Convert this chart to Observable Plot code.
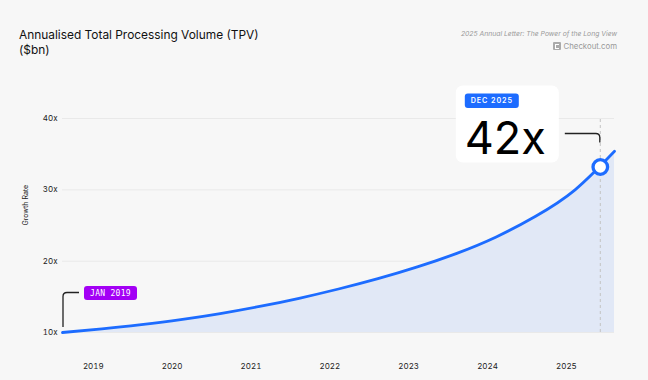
<!DOCTYPE html>
<html><head><meta charset="utf-8">
<script src="https://cdn.jsdelivr.net/npm/d3@7"></script>
<script src="https://cdn.jsdelivr.net/npm/@observablehq/plot@0.6"></script>
<style>
html,body{margin:0;padding:0;background:#f7f7f7;}
#wrap{position:relative;width:648px;height:380px;overflow:hidden;font-family:Inter,sans-serif;background:#f7f7f7;}
#chart{position:absolute;left:0;top:0;}
.title{position:absolute;left:19px;top:28px;font-size:11.9px;line-height:14.5px;color:#111;white-space:nowrap;}
.source{position:absolute;right:31px;top:29px;font-size:6.8px;font-style:italic;color:#999;white-space:nowrap;}
.brand{position:absolute;right:31px;top:41.5px;height:8.5px;font-size:7.8px;color:#999;display:flex;align-items:center;gap:2.5px;white-space:nowrap;}
.logo{width:8.5px;height:8.5px;background:#aaa;border-radius:1px;position:relative;}
.logo::after{content:"";position:absolute;left:2.2px;top:2.2px;width:3px;height:3px;border:1px solid #fff;border-right:none;}
</style>
</head><body>
<div id="wrap">
  <div id="chart"></div>
  <div class="title">Annualised Total Processing Volume (TPV)<br>($bn)</div>
  <div class="source">2025 Annual Letter: The Power of the Long View</div>
  <div class="brand"><span class="logo"></span><span>Checkout.com</span></div>
</div>
<script>
// time points (decimal years) and growth multiples
const times  = [2019.0, 2019.5, 2020.0, 2020.5, 2021.0, 2021.5, 2022.0, 2022.5, 2023.0, 2023.5, 2024.0, 2024.5, 2025.0, 2025.5, 2026.0];
const growth = [10.0, 10.5, 11.1, 11.8, 12.65, 13.65, 14.8, 16.1, 17.55, 19.2, 21.1, 23.4, 26.3, 30.0, 35.4];
// highlighted point
const highlightX = [2025.82];
const highlightY = [33.2];
const highlightLabel = ["DEC 2025"];
const highlightValue = ["42x"];
const startLabel = ["JAN 2019"];
// axes
const yTicks = [10, 20, 30, 40];
const yearLabels = [2019, 2020, 2021, 2022, 2023, 2024, 2025];
const yearTickPos = yearLabels.map(y => y + 0.39);
const yLabel = "Growth Rate";

const blue = "#1d6cff", purple = "#a300f5";
const data = times.map((t, i) => ({t, v: growth[i]}));
const hl = highlightX.map((x, i) => ({x, y: highlightY[i]}));

const chart = Plot.plot({
  width: 648, height: 380,
  marginLeft: 62, marginRight: 34, marginTop: 118, marginBottom: 48,
  style: {background: "transparent", fontFamily: "Inter, sans-serif", fontSize: "8px", color: "#222"},
  x: {domain: [2019, 2026]},
  y: {domain: [10, 40]},
  marks: [
    Plot.gridY(yTicks, {stroke: "#e9e9e9", strokeOpacity: 1}),
    Plot.areaY(data, {x: "t", y1: 10, y2: "v", fill: "#e1e8f6", curve: "natural"}),
    Plot.ruleX(hl, {x: "x", y1: 10, y2: 40, stroke: "#c4c4c4", strokeDasharray: "3,3"}),
    Plot.lineY(data, {x: "t", y: "v", stroke: blue, strokeWidth: 2.8, curve: "natural"}),
    Plot.dot(hl, {x: "x", y: "y", r: 7.3, fill: "white", stroke: blue, strokeWidth: 3.3}),
    Plot.axisY(yTicks, {tickSize: 0, tickPadding: 5, tickFormat: d => d + "x", label: null, fontSize: 8}),
    Plot.axisX(yearTickPos, {tickSize: 0, tickPadding: 31, tickFormat: d => String(Math.floor(d)), label: null, fontSize: 8}),
    Plot.text([yLabel], {frameAnchor: "left", dx: -37, rotate: -90, fontSize: 7, fill: "#222"})
  ]
});
document.getElementById("chart").appendChild(chart);

// annotations anchored at data points via the plot's scales
const sx = chart.scale("x"), sy = chart.scale("y");
const svg = d3.select(chart);
const g = svg.append("g");
const qx = sx.apply(times[0]), qy = sy.apply(growth[0]);
const px = sx.apply(highlightX[0]), py = sy.apply(highlightY[0]);

// start connector + pill
g.append("path")
  .attr("d", `M${qx+1},${qy-5}V${qy-35.5}Q${qx+1},${qy-39.5} ${qx+5},${qy-39.5}H${qx+17}`)
  .attr("fill", "none").attr("stroke", "#222").attr("stroke-width", 1.3);
g.append("rect").attr("x", qx+22).attr("y", qy-46).attr("width", 53).attr("height", 14).attr("rx", 3).attr("fill", purple);
g.append("text").attr("x", qx+48.5).attr("y", qy-39).attr("dy", "0.35em").attr("text-anchor", "middle")
  .attr("fill", "white").attr("font-family", "DejaVu Sans Mono, monospace").attr("font-size", 8).attr("letter-spacing", 0.3)
  .text(startLabel[0]);

// highlight box
g.append("rect").attr("x", px-144).attr("y", py-81).attr("width", 103).attr("height", 77).attr("rx", 7).attr("fill", "white");
g.append("rect").attr("x", px-135).attr("y", py-73).attr("width", 54).attr("height", 14.5).attr("rx", 3).attr("fill", blue);
g.append("text").attr("x", px-108).attr("y", py-65.75).attr("dy", "0.35em").attr("text-anchor", "middle")
  .attr("fill", "white").attr("font-family", "Inter, sans-serif").attr("font-size", 7.2).attr("font-weight", 600).attr("letter-spacing", 0.9)
  .text(highlightLabel[0]);
g.append("text").attr("x", px-135).attr("y", py-12.7).attr("text-anchor", "start")
  .attr("fill", "#000").attr("font-family", "Inter, sans-serif").attr("font-size", 45)
  .text(highlightValue[0]);
g.append("path")
  .attr("d", `M${px-35},${py-33}H${px-4}Q${px},${py-33} ${px},${py-29}V${py-24}`)
  .attr("fill", "none").attr("stroke", "#222").attr("stroke-width", 1.3);
</script>
</body></html>
